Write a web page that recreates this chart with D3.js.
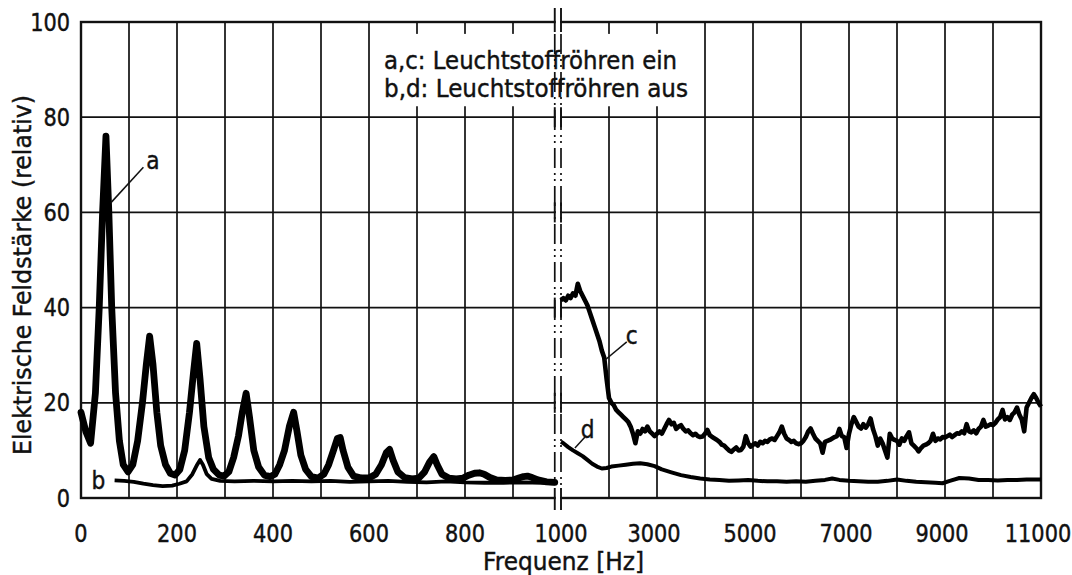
<!DOCTYPE html>
<html>
<head>
<meta charset="utf-8">
<script src="https://cdn.jsdelivr.net/npm/d3@7"></script>
<style>
  body { margin: 0; background: #fff; }
  svg { display: block; }
  text { font-family: "DejaVu Sans", sans-serif; fill: #111; stroke: #111; stroke-width: 0.45px; }
</style>
</head>
<body>
<svg width="1072" height="575"></svg>
<script>
// y ticks and x tick labels
const yTicks = [0, 20, 40, 60, 80, 100];
const xTicksLeft = [0, 200, 400, 600, 800, 1000];
const xTicksRight = [3000, 5000, 7000, 9000, 11000];
const gridLeft = [100, 200, 300, 400, 500, 600, 700, 800, 900];
const gridRight = [2000, 3000, 4000, 5000, 6000, 7000, 8000, 9000, 10000];

// a: lamps on, 0..1000 Hz
const curveA = [[0,18],[10,14],[20,11.5],[30,22],[38,40],[45,60],[52,76],[58,60],[64,40],[72,22],[80,12],[88,7],[98,5.5],
  [108,7],[118,12],[128,20],[136,28],[143,34],[150,28],[158,18],[166,11],[176,7],[186,5.2],[196,4.8],[206,6],[216,10],
  [226,18],[234,26],[241,32.5],[248,25],[256,15],[266,8.5],[276,6],[288,4.8],[298,4.6],[308,5.5],[318,8.5],[328,13],
  [336,18],[344,22],[351,17],[360,10],[370,6.5],[382,4.8],[394,4.5],[404,5],[414,7],[424,10],[434,15],[443,18],[450,14],
  [458,9],[468,6],[480,4.5],[494,4.2],[506,5],[516,7],[526,10],[534,12.5],[540,12.7],[546,10],[556,6.5],[568,4.6],
  [584,4.2],[600,4.2],[614,5],[626,7],[636,9.5],[643,10.2],[650,8],[660,5.5],[674,4.3],[690,4],[704,4.2],[716,5.5],
  [726,7.5],[735,8.7],[742,7],[752,5],[766,4.2],[782,4],[796,4.2],[808,4.8],[820,5.2],[830,5.3],[840,5],[852,4.3],
  [866,3.8],[884,3.7],[900,3.8],[912,4.2],[922,4.5],[930,4.6],[940,4.3],[952,3.8],[970,3.4],[987,3.3]];

// b: lamps off, 0..1000 Hz
const curveB = [[70,3.7],[90,3.6],[110,3.4],[130,3],[150,2.7],[170,2.5],[190,2.6],[205,3],[220,3.5],[232,5],[242,7],
  [248,8],[254,7],[262,5],[272,4],[290,3.6],[320,3.5],[360,3.6],[400,3.5],[440,3.6],[480,3.5],[520,3.6],[560,3.4],
  [600,3.5],[640,3.6],[680,3.4],[720,3.3],[760,3.5],[800,3.3],[840,3.2],[880,3.2],[920,3.3],[960,3.2],[987,3.1]];

// c: lamps on, 1000..11000 Hz, one reading every 50 Hz
const cStart = 1000;
const cStep = 50;
const curveC = [41.5,42,41.5,42.5,42,43,42.5,45,43.5,42.5,41.5,40.5,39,37.5,36,34.5,33,31,29.5,25,
  21,20,19.5,18.5,18,17.5,17,16.5,16,15,13.5,11.5,14,13.5,14.5,14,15,14,13.5,13,
  13.5,14,13.5,14.5,15.5,16.4,15.5,15.8,14.5,15,15.3,14.5,14,14.2,13.6,13.2,13.5,13,12.8,12.9,
  13.5,14.3,13.2,12.8,12.5,12.2,11.8,11.2,11,10.5,10,9.7,10.2,10.6,10,10.1,10.8,13,11.5,10.8,
  11.2,11.5,11,11.8,11.5,12,11.8,12.3,12.5,12.2,13,13.8,15,13.5,12.5,12.2,11.8,12,11.5,11.3,
  11.5,12,12.8,14,14.6,13.5,12.5,12,11.5,9.5,11.8,12,12.2,12.5,12.8,13,14.5,13,12.8,10.5,
  13.5,15.5,17,16,15,14.6,15.5,14.8,15.5,16.7,14.5,13,11,12.5,11.5,10,8.5,13.5,12.5,12.2,
  12,11.2,12.5,12,13,13.8,11.5,11,10.5,9.8,10.5,11,11.2,11.5,12,13.5,12,12.5,12.3,12.8,
  12.7,13,13.3,12.8,13.2,13.6,13.5,14,13.6,15.5,14,13.8,14.2,13.6,14.5,15,16.4,15,15.2,15.5,
  15.3,15.8,16.5,17,18.5,16.5,17,16.4,17.5,18,19,17.5,16.5,14,19,20,21,21.8,21,20,19.2];

// d: lamps off, 1000..11000 Hz
const curveD = [[1000,11.8],[1050,11.5],[1150,10.7],[1250,10],[1350,9.4],[1450,8.8],[1550,8],[1650,7.2],[1750,6.6],
  [1850,6.2],[1950,6.3],[2050,6.6],[2200,6.8],[2350,7],[2500,7.2],[2650,7.3],[2800,7.1],[2950,6.7],[3100,6],[3300,5.4],
  [3500,4.8],[3700,4.4],[3900,4.1],[4100,3.9],[4300,3.8],[4500,3.6],[4700,3.7],[4900,3.8],[5100,3.6],[5300,3.5],
  [5500,3.5],[5700,3.4],[5900,3.5],[6100,3.4],[6300,3.6],[6500,3.8],[6650,4.1],[6800,3.8],[7000,3.6],[7200,3.5],
  [7400,3.4],[7600,3.4],[7800,3.6],[8000,3.9],[8200,3.6],[8400,3.4],[8600,3.3],[8800,3.2],[8950,3.1],[9100,3.6],
  [9300,4.2],[9500,4.1],[9700,3.8],[9900,3.8],[10100,3.7],[10300,3.8],[10500,3.8],[10700,3.9],[10900,3.9],[11000,3.9]];

// curve labels with their leader lines
const curveLabels = [
  { side: 'L', f: 150, v: 71, text: 'a', from: [62, 62], to: [130, 69.5] },
  { side: 'L', f: 36, v: 3.6, text: 'b', from: null, to: null },
  { side: 'R', f: 2475, v: 34.2, text: 'c', from: [1917, 29], to: [2370, 32.8] },
  { side: 'R', f: 1556, v: 14.4, text: 'd', from: [1290, 10.5], to: [1500, 12.8] }
];
const legendLines = ['a,c: Leuchtstoffröhren ein', 'b,d: Leuchtstoffröhren aus'];

const svg = d3.select('svg');
const xL = d3.scaleLinear().domain([0, 1000]).range([81, 561]);
const xR = d3.scaleLinear().domain([1000, 11000]).range([561, 1041]);
const y = d3.scaleLinear().domain([0, 100]).range([498, 22]);
const squeeze = 0.87;

const grid = svg.append('g').attr('stroke', '#111').attr('stroke-width', 1.7);
grid.selectAll('.hl').data(yTicks.slice(1, -1)).enter().append('line')
  .attr('x1', xL(0)).attr('x2', xR(11000))
  .attr('y1', d => y(d)).attr('y2', d => y(d));
grid.selectAll('.vl').data(gridLeft).enter().append('line')
  .attr('x1', d => xL(d)).attr('x2', d => xL(d))
  .attr('y1', y(0)).attr('y2', y(100));
grid.selectAll('.vr').data(gridRight).enter().append('line')
  .attr('x1', d => xR(d)).attr('x2', d => xR(d))
  .attr('y1', y(0)).attr('y2', y(100));

// white box behind the legend text
svg.append('rect')
  .attr('x', xL(610)).attr('y', y(97.5))
  .attr('width', xR(3900) - xL(610)).attr('height', y(82.3) - y(97.5))
  .attr('fill', '#fff');

svg.append('rect')
  .attr('x', xL(0)).attr('y', y(100))
  .attr('width', xR(11000) - xL(0)).attr('height', y(0) - y(100))
  .attr('fill', 'none').attr('stroke', '#111').attr('stroke-width', 2.4);

// axis break
const bx1 = xL(987), bx2 = xR(1000);
svg.append('rect')
  .attr('x', bx1 + 1).attr('y', y(100) - 4)
  .attr('width', bx2 - bx1 - 2).attr('height', y(0) - y(100) + 8)
  .attr('fill', '#fff');
svg.selectAll('.brk').data([bx1, bx2]).enter().append('line')
  .attr('x1', d => d).attr('x2', d => d)
  .attr('y1', y(100) + 12).attr('y2', y(0) - 8)
  .attr('stroke', '#111').attr('stroke-width', 1.7)
  .attr('stroke-dasharray', '20,5,2,4,2,5');
[y(100), y(80), y(60), y(40), y(20), y(0)].forEach((yy, i) => {
  svg.selectAll(null).data([bx1, bx2]).enter().append('line')
    .attr('x1', d => d).attr('x2', d => d)
    .attr('y1', yy - (i === 0 ? 14 : 10)).attr('y2', yy + (i === 5 ? 12 : 10))
    .attr('stroke', '#111').attr('stroke-width', 1.9);
});

// curves
const lineL = d3.line().x(d => xL(d[0])).y(d => y(d[1]));
const lineR = d3.line().x(d => xR(d[0])).y(d => y(d[1]));
const cData = curveC.map((v, i) => [cStart + i * cStep, v]);

svg.append('path').datum(curveB).attr('d', lineL)
  .attr('fill', 'none').attr('stroke', '#000').attr('stroke-width', 3.8).attr('stroke-linejoin', 'round');
svg.append('path').datum(curveA).attr('d', lineL)
  .attr('fill', 'none').attr('stroke', '#000').attr('stroke-width', 6.8).attr('stroke-linejoin', 'round').attr('stroke-linecap', 'round');
svg.append('path').datum(curveD).attr('d', lineR)
  .attr('fill', 'none').attr('stroke', '#000').attr('stroke-width', 4).attr('stroke-linejoin', 'round');
svg.append('path').datum(cData).attr('d', lineR)
  .attr('fill', 'none').attr('stroke', '#000').attr('stroke-width', 4.6).attr('stroke-linejoin', 'round');

// curve labels
curveLabels.forEach(l => {
  const sx = l.side === 'L' ? xL : xR;
  svg.append('text')
    .attr('transform', `translate(${sx(l.f)},${y(l.v)}) scale(${squeeze},1)`)
    .attr('text-anchor', 'middle').attr('dominant-baseline', 'central')
    .style('font-size', '25px').text(l.text);
  if (l.from) {
    svg.append('line')
      .attr('x1', sx(l.from[0])).attr('y1', y(l.from[1]))
      .attr('x2', sx(l.to[0])).attr('y2', y(l.to[1]))
      .attr('stroke', '#111').attr('stroke-width', 1.5);
  }
});

// tick labels
svg.append('g').selectAll('text').data(yTicks).enter().append('text')
  .attr('transform', d => `translate(70,${y(d)}) scale(${squeeze},1)`)
  .attr('text-anchor', 'end').attr('dominant-baseline', 'central')
  .style('font-size', '24px').text(d => d);
svg.append('g').selectAll('text').data(xTicksLeft).enter().append('text')
  .attr('transform', d => `translate(${xL(d)},542) scale(${squeeze},1)`)
  .attr('text-anchor', 'middle').style('font-size', '24px').text(d => d);
svg.append('g').selectAll('text').data(xTicksRight).enter().append('text')
  .attr('transform', d => `translate(${xR(d) - 3},542) scale(${squeeze},1)`)
  .attr('text-anchor', 'middle').style('font-size', '24px').text(d => d);

// legend text
svg.append('g').selectAll('text').data(legendLines).enter().append('text')
  .attr('x', 384).attr('y', (d, i) => 69 + i * 28)
  .attr('textLength', (d, i) => i === 0 ? 293 : 304)
  .attr('lengthAdjust', 'spacingAndGlyphs')
  .style('font-size', '24px').text(d => d);

// axis titles
svg.append('text')
  .attr('x', 483).attr('y', 570)
  .attr('textLength', 161).attr('lengthAdjust', 'spacingAndGlyphs')
  .style('font-size', '25px')
  .text('Frequenz [Hz]');
svg.append('text')
  .attr('transform', 'translate(31,455) rotate(-90)')
  .attr('textLength', 360).attr('lengthAdjust', 'spacingAndGlyphs')
  .style('font-size', '25px')
  .text('Elektrische Feldstärke (relativ)');
</script>
</body>
</html>
